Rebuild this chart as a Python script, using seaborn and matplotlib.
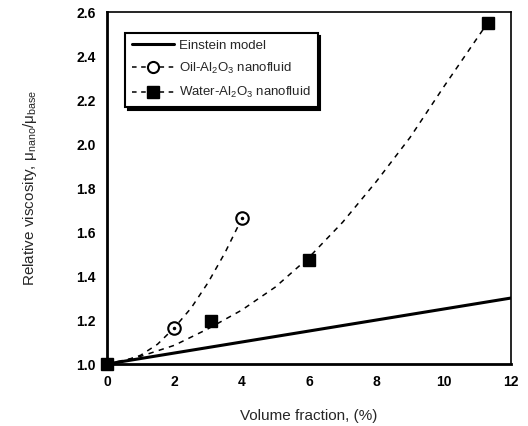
import matplotlib
matplotlib.use("Agg")
import matplotlib.pyplot as plt
from matplotlib.lines import Line2D
import seaborn as sns

# Einstein model (straight line)
einstein_x = [0, 12]
einstein_y = [1.0, 1.30]

# measured points
oil_x = [2.0, 4.0]
oil_y = [1.165, 1.662]
water_x = [0.0, 3.1, 6.0, 11.3]
water_y = [1.0, 1.197, 1.473, 2.55]

# dashed trend curves
oil_curve_x = [0, 0.5, 1, 1.5, 2, 2.5, 3, 3.5, 4]
oil_curve_y = [1.0, 1.012, 1.04, 1.09, 1.165, 1.255, 1.37, 1.505, 1.66]
water_curve_x = [0, 1, 2, 3, 4, 5, 6, 7, 8, 9, 10, 11.3]
water_curve_y = [1.0, 1.035, 1.085, 1.16, 1.245, 1.35, 1.485, 1.645, 1.83, 2.03, 2.26, 2.55]

sns.set_style("white")
plt.rcParams["font.family"] = ["Liberation Sans", "DejaVu Sans"]
plt.rcParams["mathtext.fontset"] = "custom"
plt.rcParams["mathtext.rm"] = "Liberation Sans"
plt.rcParams["mathtext.it"] = "Liberation Sans"

fig = plt.figure(figsize=(5.28, 4.26), dpi=100)
ax = fig.add_axes([0.2027, 0.1455, 0.7653, 0.8263])

sns.lineplot(x=einstein_x, y=einstein_y, ax=ax, color="black", lw=2.2)
sns.lineplot(x=oil_curve_x, y=oil_curve_y, ax=ax, color="black", lw=1.1,
             linestyle=(0, (3.5, 3.5)))
sns.lineplot(x=water_curve_x, y=water_curve_y, ax=ax, color="black", lw=1.1,
             linestyle=(0, (3.5, 3.5)))

ax.plot(oil_x, oil_y, ls="none", marker="o", ms=9, mfc="white", mec="black",
        mew=1.5, clip_on=False, zorder=5)
ax.plot(oil_x, oil_y, ls="none", marker=".", ms=3, color="black", zorder=6)
ax.plot(water_x, water_y, ls="none", marker="s", ms=9, color="black",
        clip_on=False, zorder=5)

ax.set_xlim(0, 12)
ax.set_ylim(1.0, 2.6)
ax.set_xticks([0, 2, 4, 6, 8, 10, 12])
ax.set_yticks([1.0, 1.2, 1.4, 1.6, 1.8, 2.0, 2.2, 2.4, 2.6])
ax.set_yticklabels(["1.0", "1.2", "1.4", "1.6", "1.8", "2.0", "2.2", "2.4", "2.6"])
ax.tick_params(direction="in", length=5, width=1.2, labelsize=10, pad=8,
               colors="black")
for lab in ax.get_xticklabels() + ax.get_yticklabels():
    lab.set_fontweight("bold")

for side in ["left", "bottom"]:
    ax.spines[side].set_linewidth(2.0)
for side in ["top", "right"]:
    ax.spines[side].set_linewidth(1.2)
for s in ax.spines.values():
    s.set_color("black")

ax.set_xlabel("Volume fraction, (%)", fontsize=11, labelpad=14)
ax.set_ylabel(r"Relative viscosity, $\mu_{nano}/\mu_{base}$", fontsize=11, labelpad=27)

handles = [
    Line2D([], [], color="black", lw=2.2),
    Line2D([], [], color="black", lw=1.1, ls=(0, (3, 3)), marker="o", ms=8,
           mfc="white", mec="black", mew=1.5),
    Line2D([], [], color="black", lw=1.1, ls=(0, (3, 3)), marker="s", ms=8),
]
labels = ["Einstein model", r"Oil-Al$_2$O$_3$ nanofluid", r"Water-Al$_2$O$_3$ nanofluid"]
leg = ax.legend(handles, labels, loc="upper left", bbox_to_anchor=(0.045, 0.941),
                fontsize=9.5, frameon=True, fancybox=False, edgecolor="black",
                shadow={"color": "black", "alpha": 1.0}, handlelength=3.2,
                labelspacing=0.7, borderpad=0.5, handletextpad=0.4, borderaxespad=0)
leg.get_frame().set_linewidth(1.5)

fig.savefig("out.png", dpi=100)
